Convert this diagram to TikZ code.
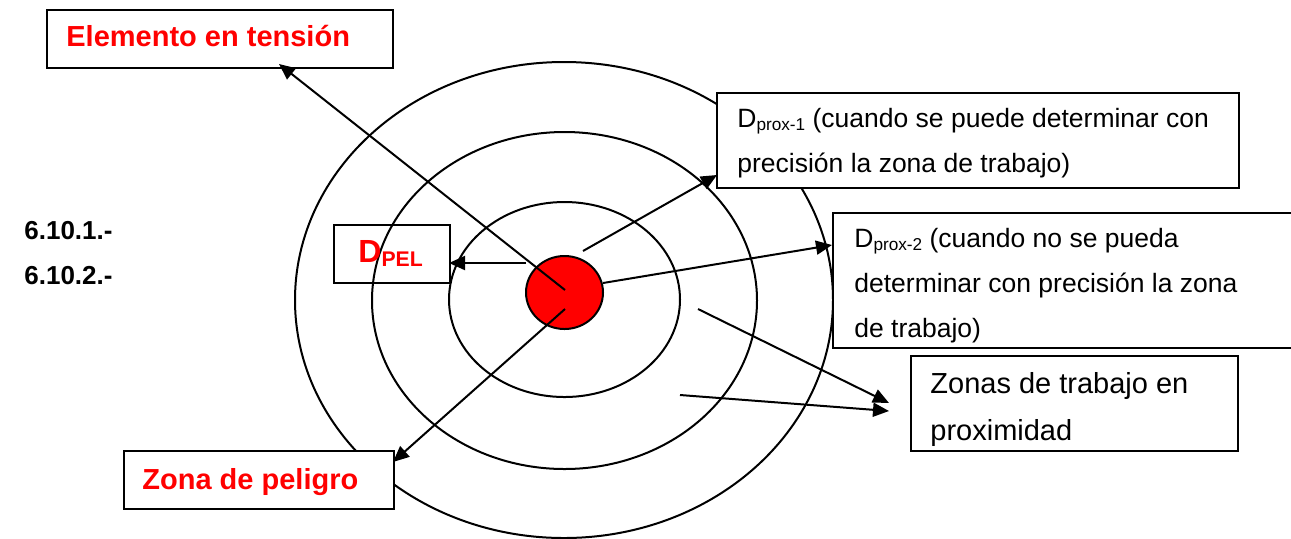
\documentclass[tikz,border=0pt]{standalone}
\usepackage{fontspec}
\setmainfont{Liberation Sans}
\usetikzlibrary{arrows.meta,shapes.geometric}
\definecolor{pure}{RGB}{255,0,0}
\tikzset{
  ring/.style={draw=black, line width=1pt},
  boxw/.style={draw=black, fill=white, line width=1pt, inner sep=0pt, anchor=north west},
  boxo/.style={draw=black, line width=1pt, inner sep=0pt, anchor=north west},
  txt/.style={inner sep=0pt, anchor=base west, align=left},
  redlbl/.style={txt, text=pure, font=\fontsize{14.5}{17}\selectfont\bfseries},
  blacklbl/.style={txt, font=\fontsize{13.25}{22.5}\selectfont},
  numlbl/.style={txt, font=\fontsize{13}{15}\selectfont\bfseries},
  arr/.style={line width=1pt, -{Triangle[length=8pt,width=7pt]}}
}
\newcommand{\subsm}[1]{\raisebox{-1.6pt}{\fontsize{8.6}{9}\selectfont #1}}
\begin{document}
\begin{tikzpicture}[x=0.5pt,y=-0.5pt]
\clip (0,0) rectangle (1291,538);
\useasboundingbox (0,0) rectangle (1291,538);

% rings
\draw[ring] (564,300) ellipse [x radius=134.5pt, y radius=119pt];
\draw[ring] (564.5,300.5) ellipse [x radius=96.25pt, y radius=84.25pt];
\draw[ring] (564.5,299.5) ellipse [x radius=57.75pt, y radius=48.75pt];
\node[draw=black, fill=pure, line width=1pt, ellipse, minimum width=38.5pt, minimum height=36.5pt, inner sep=0pt] (core) at (564.5,292.5) {};

% boxes
\node[boxw, minimum width=173pt, minimum height=29pt] (elem) at (46,9) {};
\node[boxw, minimum width=261pt, minimum height=47.5pt] (prox1) at (716,92) {};
\node[boxw, minimum width=240pt, minimum height=67.5pt] (prox2) at (832,212) {};
\node[boxw, minimum width=163.5pt, minimum height=47.5pt] (zonas) at (910,355) {};
\node[boxw, minimum width=135pt, minimum height=29pt] (pelig) at (123,450) {};
\node[boxo, minimum width=58pt, minimum height=29pt] (dpel) at (333,224) {};

% arrow end points
\coordinate (s1) at (565,290); \coordinate (t1) at (279,64);
\coordinate (s2) at (526,263); \coordinate (t2) at (449,263);
\coordinate (s3) at (565,309); \coordinate (t3) at (393,462);
\coordinate (s4) at (583,251); \coordinate (t4) at (717,175);
\coordinate (s5) at (603,283); \coordinate (t5) at (832,245);
\coordinate (s6) at (698,309); \coordinate (t6) at (889,403);
\coordinate (s7) at (680,395); \coordinate (t7) at (889,411);

\draw[arr] (s1) -- (t1);
\draw[arr] (s2) -- (t2);
\draw[arr] (s3) -- (t3);
\draw[arr] (s4) -- (t4);
\draw[arr] (s5) -- (t5);
\draw[arr] (s6) -- (t6);
\draw[arr] (s7) -- (t7);

% texts
\node[redlbl] (elemt) at (66,46) {Elemento en tensión};
\node[redlbl] (peligt) at (142,489) {Zona de peligro};
\node[txt, text=pure, font=\bfseries] (dpelt) at (358,262) {\fontsize{16}{18}\selectfont D\raisebox{-2pt}{\fontsize{10.6}{12}\selectfont PEL}};
\node[blacklbl] (prox1t) at (737,172) {D\subsm{prox-1} (cuando se puede determinar con\\precisión la zona de trabajo)};
\node[blacklbl] (prox2t) at (854,337) {D\subsm{prox-2} (cuando no se pueda\\determinar con precisión la zona\\de trabajo)};
\node[txt, font=\fontsize{14.5}{23.5}\selectfont] (zonast) at (930,440) {Zonas de trabajo en\\proximidad};
\node[numlbl] (n1) at (24,239) {6.10.1.-};
\node[numlbl] (n2) at (24,284) {6.10.2.-};
\end{tikzpicture}
\end{document}
